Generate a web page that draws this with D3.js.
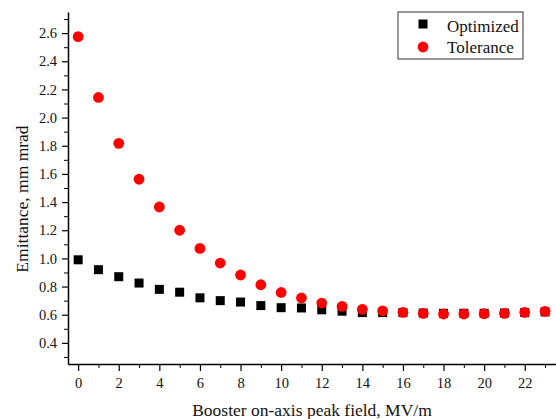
<!DOCTYPE html>
<html>
<head>
<meta charset="utf-8">
<script src="https://cdn.jsdelivr.net/npm/d3@7"></script>
<style>
  html, body { margin: 0; padding: 0; background: #fff; }
  svg { display: block; }
  svg text { font-family: "Liberation Serif", "Times New Roman", serif !important; fill: #111; }
</style>
</head>
<body>
<svg id="chart" width="556" height="419"></svg>
<script>
// Booster on-axis peak field (MV/m)
const fields = [0,1,2,3,4,5,6,7,8,9,10,11,12,13,14,15,16,17,18,19,20,21,22,23];
// Emittance, mm mrad
const optimized = [0.99,0.92,0.87,0.825,0.78,0.76,0.72,0.70,0.69,0.665,0.65,0.648,0.635,0.625,0.615,0.615,0.615,0.612,0.61,0.61,0.61,0.612,0.615,0.62];
const tolerance = [2.575,2.143,1.817,1.562,1.365,1.20,1.071,0.967,0.882,0.813,0.758,0.719,0.683,0.659,0.638,0.627,0.617,0.61,0.605,0.605,0.607,0.61,0.617,0.624];
const xTicks = [0,2,4,6,8,10,12,14,16,18,20,22];
const yTicks = [0.4,0.6,0.8,1.0,1.2,1.4,1.6,1.8,2.0,2.2,2.4,2.6];
const seriesNames = ["Optimized", "Tolerance"];

const svg = d3.select("#chart");
const plotLeft = 68, plotRight = 556, plotTop = 12, plotBottom = 364;

const x = d3.scaleLinear().domain([-0.5, 23.54]).range([plotLeft, plotRight]);
const y = d3.scaleLinear().domain([0.25, 2.75]).range([plotBottom, plotTop]);

// x axis: labelled major ticks every 2, minor ticks on odd values
const xMinor = d3.range(1, 24, 2);
svg.append("g").attr("transform", `translate(0,${plotBottom})`)
  .call(d3.axisBottom(x).tickValues(xMinor).tickSize(4).tickFormat(""))
  .call(g => g.select(".domain").remove());
const gx = svg.append("g").attr("transform", `translate(0,${plotBottom})`)
  .call(d3.axisBottom(x).tickValues(xTicks).tickSize(7).tickSizeOuter(0).tickPadding(7).tickFormat(d3.format("d")));
gx.selectAll("text").style("font-size", "14.5px");
gx.selectAll("line").attr("stroke-width", 1.2);
gx.select(".domain").attr("stroke-width", 1.5);

// y axis: labelled major ticks every 0.2, minor ticks halfway
const yMinor = [0.3,0.5,0.7,0.9,1.1,1.3,1.5,1.7,1.9,2.1,2.3,2.5,2.7];
svg.append("g").attr("transform", `translate(${plotLeft},0)`)
  .call(d3.axisLeft(y).tickValues(yMinor).tickSize(4).tickFormat(""))
  .call(g => g.select(".domain").remove());
const gy = svg.append("g").attr("transform", `translate(${plotLeft},0)`)
  .call(d3.axisLeft(y).tickValues(yTicks).tickSize(6).tickSizeOuter(0).tickPadding(5).tickFormat(d3.format(".1f")));
gy.selectAll("text").style("font-size", "14.5px");
gy.selectAll("line").attr("stroke-width", 1.2);
gy.select(".domain").attr("stroke-width", 1.5);

// axis titles
svg.append("text")
  .attr("x", (plotLeft + plotRight) / 2).attr("y", 416)
  .attr("text-anchor", "middle").style("font-size", "17.5px")
  .text("Booster on-axis peak field, MV/m");
svg.append("text")
  .attr("transform", "translate(28,199) rotate(-90)")
  .attr("text-anchor", "middle").style("font-size", "17.5px")
  .text("Emittance, mm mrad");

// Optimized: black squares
const sq = 9;
svg.append("g").selectAll("rect").data(fields)
  .join("rect")
  .attr("x", (d) => x(d) - sq / 2)
  .attr("y", (d, i) => y(optimized[i]) - sq / 2)
  .attr("width", sq).attr("height", sq)
  .attr("fill", "#000");

// Tolerance: red circles
svg.append("g").selectAll("circle").data(fields)
  .join("circle")
  .attr("cx", (d) => x(d))
  .attr("cy", (d, i) => y(tolerance[i]))
  .attr("r", 5.4)
  .attr("fill", "#ff0000");

// legend
const lg = svg.append("g");
lg.append("rect").attr("x", 398).attr("y", 12).attr("width", 125).attr("height", 47)
  .attr("fill", "#fff").attr("stroke", "#333").attr("stroke-width", 1);
lg.append("rect").attr("x", 423 - 4.5).attr("y", 24 - 4.5).attr("width", 9).attr("height", 9).attr("fill", "#000");
lg.append("circle").attr("cx", 423).attr("cy", 47).attr("r", 5.4).attr("fill", "#ff0000");
lg.selectAll("text.lbl").data(seriesNames).join("text")
  .attr("class", "lbl")
  .attr("x", 447).attr("y", (d, i) => 31.5 + i * 21)
  .style("font-size", "17px")
  .text(d => d);
</script>
</body>
</html>
